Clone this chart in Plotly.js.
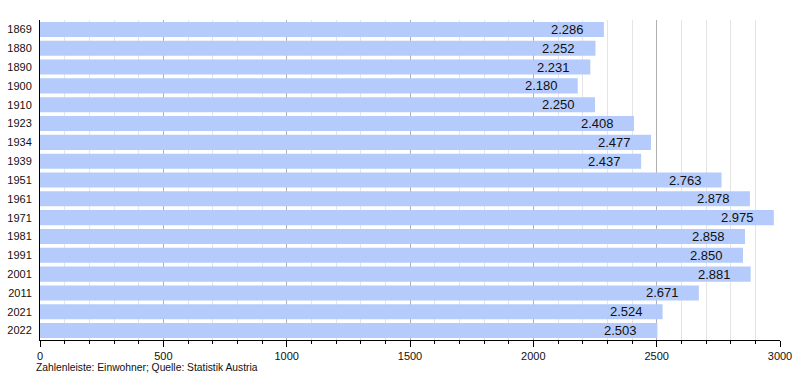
<!DOCTYPE html>
<html><head><meta charset="utf-8">
<script src="https://cdn.plot.ly/plotly-3.0.1.min.js"></script>
<style>html,body{margin:0;padding:0;background:#fff}</style>
</head><body><div id="chart" style="width:800px;height:380px"></div>
<script>
const years = ['1869','1880','1890','1900','1910','1923','1934','1939','1951','1961','1971','1981','1991','2001','2011','2021','2022'];
const population = [2286,2252,2231,2180,2250,2408,2477,2437,2763,2878,2975,2858,2850,2881,2671,2524,2503];
const xTicks = [0,500,1000,1500,2000,2500,3000];

function fmt(v){ return String(v).replace(/\B(?=(\d{3})+(?!\d))/g,'.'); }

const annotations = years.map((y,i)=>({
  x: population[i], y: i, xref:'x', yref:'y', text: fmt(population[i]),
  showarrow:false, xanchor:'right', xshift:-18,
  font:{family:'Liberation Sans, Arial, sans-serif', size:13, color:'#111'}
}));
annotations.push({
  xref:'paper', yref:'paper', x:0, y:0, yshift:-20, xshift:-6, xanchor:'left', yanchor:'top',
  text:'Zahlenleiste: Einwohner; Quelle: Statistik Austria', showarrow:false,
  font:{family:'Liberation Sans, Arial, sans-serif', size:10.3, color:'#111'}
});

Plotly.newPlot('chart', [{
  type:'bar', orientation:'h', x: population, y: years,
  marker:{color:'#b4cbfc'}, hoverinfo:'none', textposition:'none'
}], {
  width:800, height:380,
  margin:{l:40, r:20, t:20, b:40},
  paper_bgcolor:'#fff', plot_bgcolor:'#fff',
  bargap:0.2, showlegend:false,
  font:{family:'Liberation Sans, Arial, sans-serif', size:11, color:'#111'},
  xaxis:{range:[0,3000], tickvals:xTicks, ticktext:xTicks.map(String),
    showgrid:true, gridcolor:'#b0b0b0', gridwidth:1,
    ticks:'outside', ticklen:6, tickcolor:'#000',
    showline:true, linecolor:'#000', linewidth:1, zeroline:false,
    minor:{dtick:100, showgrid:true, gridcolor:'#e4e4e4', ticks:'outside', ticklen:3, tickcolor:'#000'},
    tickfont:{size:11}, fixedrange:true},
  yaxis:{type:'category', categoryorder:'array', categoryarray:years,
    range:[years.length-0.5,-0.5], autorange:false, showgrid:false, showline:true,
    linecolor:'#000', linewidth:1, ticks:'', ticklabelstandoff:5, tickfont:{size:11}, fixedrange:true},
  annotations: annotations
}, {displayModeBar:false, staticPlot:true});
</script></body></html>
